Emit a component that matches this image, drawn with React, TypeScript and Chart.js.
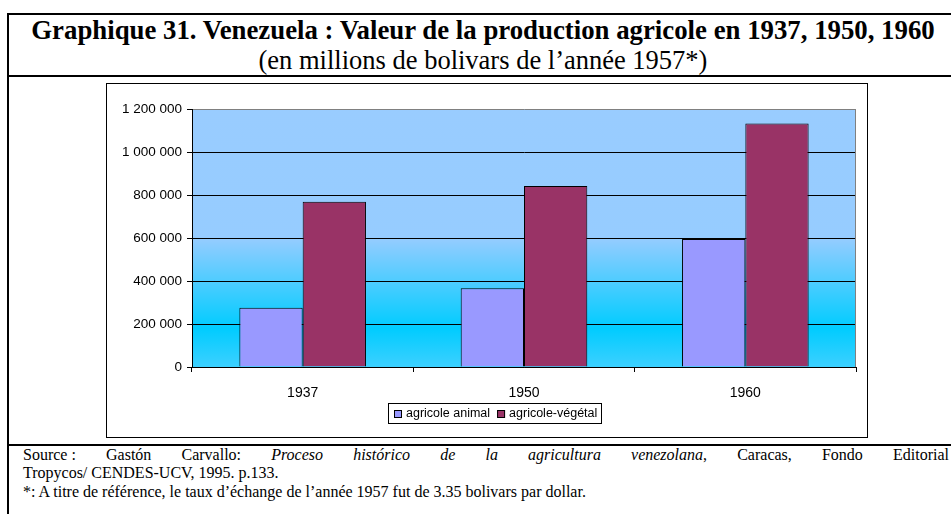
import React, { useEffect, useRef } from "react";
import { Chart, registerables } from "chart.js";

Chart.register(...registerables);

// ---- data ----
const categories = ["1937", "1950", "1960"];
const animalValues = [276000, 366000, 595000];
const vegetalValues = [769000, 842000, 1133000];
const seriesLabels = ["agricole animal", "agricole-végétal"];
const seriesColors = ["#9999FF", "#993366"];
const yMax = 1200000;
const yStep = 200000;

const titleText = "Graphique 31. Venezuela : Valeur de la production agricole en 1937, 1950, 1960";
const subtitleText = "(en millions de bolivars de l’année 1957*)";
const sourceLine1 = ["Source\u00a0:", "Gastón", "Carvallo:"];
const sourceItalic = ["Proceso", "histórico", "de", "la", "agricultura", "venezolana"];
const sourceLine1End = ["Caracas,", "Fondo", "Editorial"];
const sourceLine2 = "Tropycos/ CENDES-UCV, 1995. p.133.";
const noteLine = "*: A titre de référence, le taux d’échange de l’année 1957 fut de 3.35 bolivars par dollar.";

const fmt = (v: number) => String(v).replace(/\B(?=(\d{3})+(?!\d))/g, " ");

const SANS = '"Liberation Sans", Arial, sans-serif';
const SERIF = '"Liberation Serif", "Times New Roman", serif';

const decorPlugin = {
  id: "decor",
  beforeDraw(chart: any) {
    const { ctx, chartArea: a, width, height } = chart;
    ctx.save();
    ctx.fillStyle = "#ffffff";
    ctx.fillRect(0, 0, width, height);
    const g = ctx.createLinearGradient(0, a.top, 0, a.bottom);
    g.addColorStop(0, "#99CCFF");
    g.addColorStop(0.5, "#96CCFF");
    g.addColorStop(0.85, "#00CCFF");
    g.addColorStop(1, "#3DD0FF");
    ctx.fillStyle = g;
    ctx.fillRect(a.left, a.top, a.right - a.left, a.bottom - a.top);
    ctx.restore();
  },
  beforeDatasetsDraw(chart: any) {
    const { ctx, chartArea: a } = chart;
    ctx.save();
    ctx.strokeStyle = "#808080";
    ctx.lineWidth = 1;
    ctx.beginPath();
    ctx.moveTo(Math.round(a.right) - 0.5, a.top);
    ctx.lineTo(Math.round(a.right) - 0.5, a.bottom);
    ctx.stroke();
    ctx.restore();
  },
  afterDraw(chart: any) {
    const { ctx, width, height } = chart;
    ctx.save();
    ctx.strokeStyle = "#000";
    ctx.lineWidth = 1;
    ctx.strokeRect(0.5, 0.5, width - 1, height - 1);

    // legend
    ctx.font = `12.5px ${SANS}`;
    const ds = chart.data.datasets;
    const marker = 8;
    const gap = 4;
    const itemGap = 7;
    const pad = 5;
    const widths = ds.map((d: any) => ctx.measureText(d.label).width);
    const total =
      pad * 2 +
      widths.reduce((s: number, w: number) => s + marker + gap + w, 0) +
      itemGap * (ds.length - 1);
    const left = 282;
    const top = 320;
    const h = 20;
    ctx.strokeStyle = "#000";
    ctx.strokeRect(left + 0.5, top + 0.5, Math.round(total), h);
    let x = left + pad + 1;
    const midY = top + h / 2 + 0.5;
    ds.forEach((d: any, i: number) => {
      const my = Math.round(midY - marker / 2);
      ctx.fillStyle = d.backgroundColor;
      ctx.fillRect(x, my, marker, marker);
      ctx.strokeStyle = "#000";
      ctx.strokeRect(x + 0.5, my + 0.5, marker - 1, marker - 1);
      x += marker + gap;
      ctx.fillStyle = "#000";
      ctx.textBaseline = "middle";
      ctx.textAlign = "left";
      ctx.fillText(d.label, x, midY);
      x += widths[i] + itemGap;
    });
    ctx.restore();
  },
};

function ChartBox() {
  const ref = useRef<HTMLCanvasElement | null>(null);
  useEffect(() => {
    if (!ref.current) return;
    const chart = new Chart(ref.current, {
      type: "bar",
      data: {
        labels: categories,
        datasets: [
          {
            label: seriesLabels[0],
            data: animalValues,
            backgroundColor: seriesColors[0],
            borderColor: "#000",
            borderWidth: 1,
          },
          {
            label: seriesLabels[1],
            data: vegetalValues,
            backgroundColor: seriesColors[1],
            borderColor: "#000",
            borderWidth: 1,
          },
        ],
      },
      options: {
        animation: false,
        responsive: false,
        maintainAspectRatio: false,
        devicePixelRatio: 1,
        datasets: { bar: { categoryPercentage: 0.572, barPercentage: 1 } },
        layout: { padding: { left: 0, top: 26, right: 12, bottom: 0 } },
        plugins: { legend: { display: false }, tooltip: { enabled: false }, title: { display: false } },
        scales: {
          x: {
            afterFit: (s: any) => {
              s.height = 71;
            },
            grid: {
              display: true,
              drawOnChartArea: false,
              drawTicks: true,
              tickLength: 5,
              color: "#000",
              offset: true,
            },
            border: { display: true, color: "#000", width: 1 },
            ticks: {
              color: "#000",
              padding: 13,
              font: { family: SANS, size: 14 },
              maxRotation: 0,
            },
          },
          y: {
            min: 0,
            max: yMax,
            afterFit: (s: any) => {
              s.width = 86;
            },
            grid: {
              color: (c: any) => (c.tick && c.tick.value === yMax ? "#808080" : "#000"),
              tickColor: "#000",
              tickLength: 5,
              lineWidth: 1,
            },
            border: { display: true, color: "#000", width: 1 },
            ticks: {
              stepSize: yStep,
              color: "#000",
              padding: 5,
              font: { family: SANS, size: 13.5 },
              callback: (v: any) => fmt(Number(v)),
            },
          },
        },
      },
      plugins: [decorPlugin],
    });
    return () => chart.destroy();
  }, []);
  return (
    <canvas
      ref={ref}
      width={762}
      height={355}
      style={{ position: "absolute", left: 106, top: 83, width: 762, height: 355 }}
    />
  );
}

export default function App() {
  const line = (top: number): React.CSSProperties => ({
    position: "absolute",
    left: 7,
    top,
    width: 960,
    height: 2,
    background: "#000",
  });
  return (
    <div
      style={{
        position: "absolute",
        left: 0,
        top: 0,
        width: 951,
        height: 514,
        overflow: "hidden",
        background: "#fff",
        fontFamily: SERIF,
        color: "#000",
      }}
    >
      <div style={line(13)} />
      <div style={{ position: "absolute", left: 7, top: 13, width: 2, height: 520, background: "#000" }} />
      <div style={line(75)} />
      <div style={line(444)} />
      <div
        style={{
          position: "absolute",
          left: 9,
          top: 15,
          width: 948,
          textAlign: "center",
          fontWeight: "bold",
          fontSize: 26.8,
          lineHeight: "30px",
          whiteSpace: "nowrap",
        }}
      >
        {titleText}
      </div>
      <div
        style={{
          position: "absolute",
          left: 9,
          top: 45,
          width: 948,
          textAlign: "center",
          fontSize: 26.5,
          lineHeight: "30px",
          whiteSpace: "nowrap",
        }}
      >
        {subtitleText}
      </div>
      <ChartBox />
      <div
        style={{
          position: "absolute",
          left: 23,
          top: 446,
          width: 926,
          fontSize: 16,
          lineHeight: "18.4px",
        }}
      >
        <div style={{ display: "flex", justifyContent: "space-between", whiteSpace: "nowrap" }}>
          {sourceLine1.map((w, i) => (
            <span key={"a" + i}>{w}</span>
          ))}
          {sourceItalic.map((w, i) =>
            i === sourceItalic.length - 1 ? (
              <span key={"b" + i}>
                <i>{w}</i>,
              </span>
            ) : (
              <i key={"b" + i}>{w}</i>
            )
          )}
          {sourceLine1End.map((w, i) => (
            <span key={"c" + i}>{w}</span>
          ))}
        </div>
        <div>{sourceLine2}</div>
        <div>{noteLine}</div>
      </div>
    </div>
  );
}
